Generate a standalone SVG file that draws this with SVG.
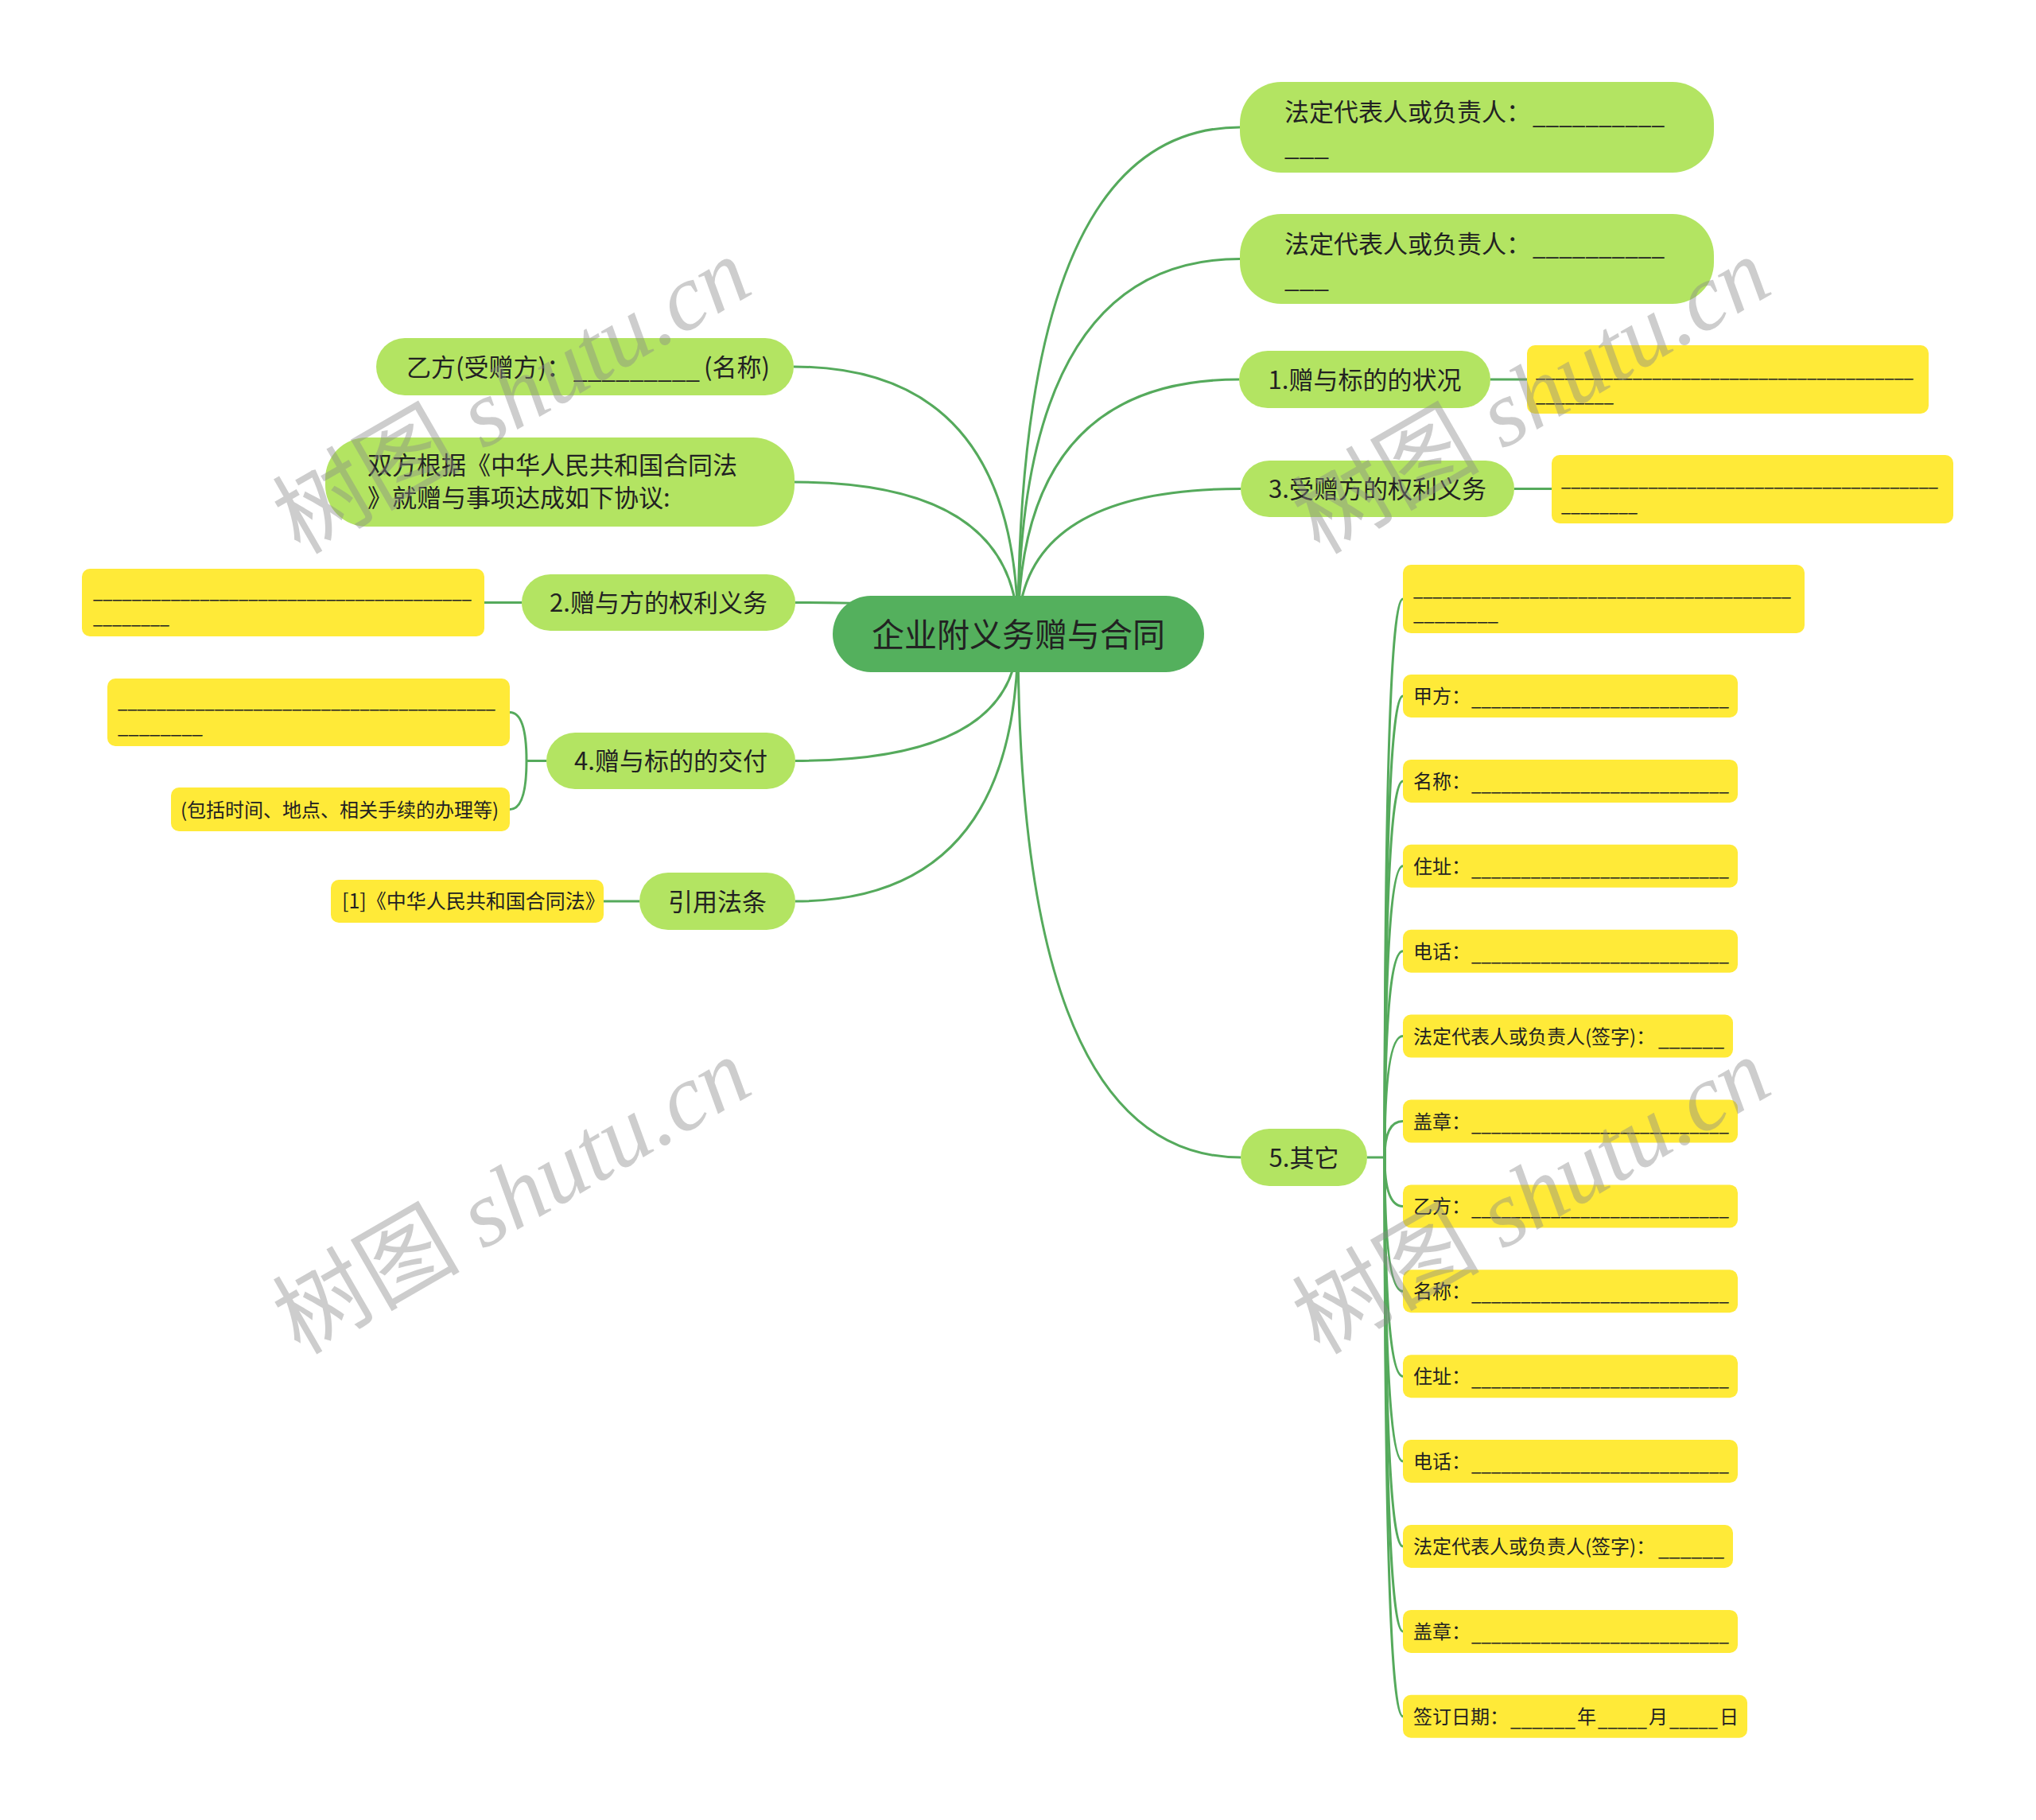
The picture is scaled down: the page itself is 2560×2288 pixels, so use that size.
<svg xmlns="http://www.w3.org/2000/svg" width="2560" height="2288" viewBox="0 0 2560 2288">
<style>
.c{fill:none;stroke:#55aa5c;stroke-width:3}
.root{fill:#54b05d}
.g{fill:#b3e462}
.y{fill:#ffea38}
text{font-family:"Noto Sans CJK SC","Liberation Sans",sans-serif;fill:#222}
.f41{font-size:41px}
.f31{font-size:31px}
.f24{font-size:24px}
.f25{font-size:25px}
.mid{text-anchor:middle}
.wm{font-size:118px;fill:#8a8a8a;opacity:.42}
.wl{font-family:"Liberation Serif",serif;font-style:italic}
</style>
<rect x="0" y="0" width="2560" height="2288" fill="#fff"/>

<g id="connectors">
<path class="c" d="M1280 797 Q1280 160 1559 160"/>
<path class="c" d="M1280 797 Q1280 325.5 1559 325.5"/>
<path class="c" d="M1280 797 Q1280 477 1558 477"/>
<path class="c" d="M1280 797 Q1280 614.5 1560 614.5"/>
<path class="c" d="M1280 797 Q1280 1455 1560 1455"/>
<path class="c" d="M1280 797 Q1280 461 998 461"/>
<path class="c" d="M1280 797 Q1280 606 999 606"/>
<path class="c" d="M1280 797 Q1280 757.5 1000 757.5"/>
<path class="c" d="M1280 797 Q1280 956.5 1000 956.5"/>
<path class="c" d="M1280 797 Q1280 1133 1000 1133"/>
<path class="c" d="M1874 477 L1920 477"/>
<path class="c" d="M1904 614.5 L1951 614.5"/>
<path class="c" d="M656 757.5 L609 757.5"/>
<path class="c" d="M804 1133 L759 1133"/>
<path class="c" d="M687 956.5 L662 956.5 M662 956.5 Q662 895.5 641 895.5 M662 956.5 Q662 1017.5 641 1017.5"/>
<path class="c" d="M1719 1455 L1741 1455"/>
<path class="c" d="M1741 1455 Q1741 753 1764 753"/>
<path class="c" d="M1741 1455 Q1741 875 1764 875"/>
<path class="c" d="M1741 1455 Q1741 981.9 1764 981.9"/>
<path class="c" d="M1741 1455 Q1741 1088.8 1764 1088.8"/>
<path class="c" d="M1741 1455 Q1741 1195.7 1764 1195.7"/>
<path class="c" d="M1741 1455 Q1741 1302.6 1764 1302.6"/>
<path class="c" d="M1741 1455 Q1741 1409.5 1764 1409.5"/>
<path class="c" d="M1741 1455 Q1741 1516.4 1764 1516.4"/>
<path class="c" d="M1741 1455 Q1741 1623.3 1764 1623.3"/>
<path class="c" d="M1741 1455 Q1741 1730.2 1764 1730.2"/>
<path class="c" d="M1741 1455 Q1741 1837.1 1764 1837.1"/>
<path class="c" d="M1741 1455 Q1741 1944 1764 1944"/>
<path class="c" d="M1741 1455 Q1741 2050.9 1764 2050.9"/>
<path class="c" d="M1741 1455 Q1741 2157.8 1764 2157.8"/>
</g>

<g id="root">
<rect class="root" x="1047" y="749" width="467" height="96" rx="48"/>
<text class="f41 mid" x="1280.5" y="813">企业附义务赠与合同</text>
</g>

<g id="r-legal1">
<rect class="g" x="1559" y="103" width="596" height="114" rx="52"/>
<text class="f31" x="1615" y="152">法定代表人或负责人：</text>
<text class="f31" x="1927" y="156" textLength="166" lengthAdjust="spacingAndGlyphs">__________</text>
<text class="f31" x="1615" y="196" textLength="56" lengthAdjust="spacingAndGlyphs">___</text>
</g>
<g id="r-legal2">
<rect class="g" x="1559" y="269" width="596" height="113" rx="52"/>
<text class="f31" x="1615" y="318">法定代表人或负责人：</text>
<text class="f31" x="1927" y="321" textLength="166" lengthAdjust="spacingAndGlyphs">__________</text>
<text class="f31" x="1615" y="362" textLength="56" lengthAdjust="spacingAndGlyphs">___</text>
</g>

<g id="r-1">
<rect class="g" x="1558" y="441" width="316" height="72" rx="36"/>
<text class="f31 mid" x="1716" y="489">1.赠与标的的状况</text>
</g>
<g id="r-1-note">
<rect class="y" x="1920" y="434" width="505" height="86" rx="10"/>
<text class="f24" x="1931" y="474" textLength="475" lengthAdjust="spacingAndGlyphs">_______________________________________</text>
<text class="f24" x="1931" y="505" textLength="98" lengthAdjust="spacingAndGlyphs">________</text>
</g>

<g id="r-3">
<rect class="g" x="1560" y="579" width="344" height="71" rx="36"/>
<text class="f31 mid" x="1732" y="626">3.受赠方的权利义务</text>
</g>
<g id="r-3-note">
<rect class="y" x="1951" y="572" width="505" height="86" rx="10"/>
<text class="f24" x="1963" y="611" textLength="474" lengthAdjust="spacingAndGlyphs">_______________________________________</text>
<text class="f24" x="1963" y="643" textLength="96" lengthAdjust="spacingAndGlyphs">________</text>
</g>

<g id="r-5">
<rect class="g" x="1560" y="1419" width="159" height="72" rx="36"/>
<text class="f31 mid" x="1639.5" y="1467">5.其它</text>
</g>

<g id="r-5-blank">
<rect class="y" x="1764" y="710" width="505" height="86" rx="10"/>
<text class="f24" x="1777" y="749" textLength="475" lengthAdjust="spacingAndGlyphs">_______________________________________</text>
<text class="f24" x="1777" y="780" textLength="107" lengthAdjust="spacingAndGlyphs">________</text>
</g>
<g id="r-5-jia">
<rect class="y" x="1764" y="848" width="421" height="54" rx="10"/>
<text class="f24" x="1777" y="884">甲方：</text>
<text class="f24" x="1850" y="887" textLength="324" lengthAdjust="spacingAndGlyphs">__________________________</text>
</g>
<g id="r-5-name1">
<rect class="y" x="1764" y="954.9" width="421" height="54" rx="10"/>
<text class="f24" x="1777" y="990.9">名称：</text>
<text class="f24" x="1850" y="993.9" textLength="324" lengthAdjust="spacingAndGlyphs">__________________________</text>
</g>
<g id="r-5-addr1">
<rect class="y" x="1764" y="1061.8" width="421" height="54" rx="10"/>
<text class="f24" x="1777" y="1097.8">住址：</text>
<text class="f24" x="1850" y="1100.8" textLength="324" lengthAdjust="spacingAndGlyphs">__________________________</text>
</g>
<g id="r-5-tel1">
<rect class="y" x="1764" y="1168.7" width="421" height="54" rx="10"/>
<text class="f24" x="1777" y="1204.7">电话：</text>
<text class="f24" x="1850" y="1207.7" textLength="324" lengthAdjust="spacingAndGlyphs">__________________________</text>
</g>
<g id="r-5-rep1">
<rect class="y" x="1764" y="1275.6" width="415" height="54" rx="10"/>
<text class="f24" x="1777" y="1311.6">法定代表人或负责人(签字)：</text>
<text class="f24" x="2085" y="1314.6" textLength="83" lengthAdjust="spacingAndGlyphs">______</text>
</g>
<g id="r-5-seal1">
<rect class="y" x="1764" y="1382.5" width="421" height="54" rx="10"/>
<text class="f24" x="1777" y="1418.5">盖章：</text>
<text class="f24" x="1850" y="1421.5" textLength="324" lengthAdjust="spacingAndGlyphs">__________________________</text>
</g>
<g id="r-5-yi">
<rect class="y" x="1764" y="1489.4" width="421" height="54" rx="10"/>
<text class="f24" x="1777" y="1525.4">乙方：</text>
<text class="f24" x="1850" y="1528.4" textLength="324" lengthAdjust="spacingAndGlyphs">__________________________</text>
</g>
<g id="r-5-name2">
<rect class="y" x="1764" y="1596.3" width="421" height="54" rx="10"/>
<text class="f24" x="1777" y="1632.3">名称：</text>
<text class="f24" x="1850" y="1635.3" textLength="324" lengthAdjust="spacingAndGlyphs">__________________________</text>
</g>
<g id="r-5-addr2">
<rect class="y" x="1764" y="1703.2" width="421" height="54" rx="10"/>
<text class="f24" x="1777" y="1739.2">住址：</text>
<text class="f24" x="1850" y="1742.2" textLength="324" lengthAdjust="spacingAndGlyphs">__________________________</text>
</g>
<g id="r-5-tel2">
<rect class="y" x="1764" y="1810.1" width="421" height="54" rx="10"/>
<text class="f24" x="1777" y="1846.1">电话：</text>
<text class="f24" x="1850" y="1849.1" textLength="324" lengthAdjust="spacingAndGlyphs">__________________________</text>
</g>
<g id="r-5-rep2">
<rect class="y" x="1764" y="1917" width="415" height="54" rx="10"/>
<text class="f24" x="1777" y="1953">法定代表人或负责人(签字)：</text>
<text class="f24" x="2085" y="1956" textLength="83" lengthAdjust="spacingAndGlyphs">______</text>
</g>
<g id="r-5-seal2">
<rect class="y" x="1764" y="2023.9" width="421" height="54" rx="10"/>
<text class="f24" x="1777" y="2059.9">盖章：</text>
<text class="f24" x="1850" y="2062.9" textLength="324" lengthAdjust="spacingAndGlyphs">__________________________</text>
</g>
<g id="r-5-date">
<rect class="y" x="1764" y="2130.8" width="433" height="54" rx="10"/>
<text class="f24" x="1777" y="2166.8">签订日期：</text>
<text class="f24" x="1899" y="2169.8" textLength="82" lengthAdjust="spacingAndGlyphs">______</text>
<text class="f24" x="1983" y="2166.8">年</text>
<text class="f24" x="2009" y="2169.8" textLength="62" lengthAdjust="spacingAndGlyphs">_____</text>
<text class="f24" x="2073" y="2166.8">月</text>
<text class="f24" x="2099" y="2169.8" textLength="61" lengthAdjust="spacingAndGlyphs">_____</text>
<text class="f24" x="2162" y="2166.8">日</text>
</g>

<g id="l-yi">
<rect class="g" x="473" y="425" width="525" height="72" rx="36"/>
<text class="f31" x="511" y="473">乙方(受赠方)：</text>
<text class="f31" x="721" y="476" textLength="159" lengthAdjust="spacingAndGlyphs">_________</text>
<text class="f31" x="885" y="473">(名称)</text>
</g>
<g id="l-both">
<rect class="g" x="409" y="550" width="590" height="112" rx="52"/>
<text class="f31" x="462" y="596">双方根据《中华人民共和国合同法</text>
<text class="f31" x="462" y="637">》就赠与事项达成如下协议:</text>
</g>
<g id="l-2">
<rect class="g" x="656" y="722" width="344" height="71" rx="36"/>
<text class="f31 mid" x="828" y="769">2.赠与方的权利义务</text>
</g>
<g id="l-2-note">
<rect class="y" x="103" y="715" width="506" height="85" rx="10"/>
<text class="f24" x="117" y="752" textLength="476" lengthAdjust="spacingAndGlyphs">_______________________________________</text>
<text class="f24" x="117" y="784" textLength="96" lengthAdjust="spacingAndGlyphs">________</text>
</g>
<g id="l-4">
<rect class="g" x="687" y="921" width="313" height="71" rx="36"/>
<text class="f31 mid" x="843.5" y="968">4.赠与标的的交付</text>
</g>
<g id="l-4-note1">
<rect class="y" x="135" y="853" width="506" height="85" rx="10"/>
<text class="f24" x="148" y="890" textLength="475" lengthAdjust="spacingAndGlyphs">_______________________________________</text>
<text class="f24" x="148" y="922" textLength="107" lengthAdjust="spacingAndGlyphs">________</text>
</g>
<g id="l-4-note2">
<rect class="y" x="215" y="990" width="426" height="55" rx="10"/>
<text class="f24" x="227" y="1027">(包括时间、地点、相关手续的办理等)</text>
</g>
<g id="l-law">
<rect class="g" x="804" y="1097" width="196" height="72" rx="36"/>
<text class="f31 mid" x="902" y="1145">引用法条</text>
</g>
<g id="l-law-note">
<rect class="y" x="416" y="1106" width="343" height="54" rx="10"/>
<text class="f25" x="430" y="1142">[1]《中华人民共和国合同法》</text>
</g>

<g id="watermarks">
<text class="wm" x="377" y="698" transform="rotate(-30 377 698)">树图<tspan class="wl"> shutu.cn</tspan></text>
<text class="wm" x="1659" y="698" transform="rotate(-30 1659 698)">树图<tspan class="wl"> shutu.cn</tspan></text>
<text class="wm" x="377" y="1704" transform="rotate(-30 377 1704)">树图<tspan class="wl"> shutu.cn</tspan></text>
<text class="wm" x="1659" y="1704" transform="rotate(-30 1659 1704)">树图<tspan class="wl"> shutu.cn</tspan></text>
</g>
</svg>
